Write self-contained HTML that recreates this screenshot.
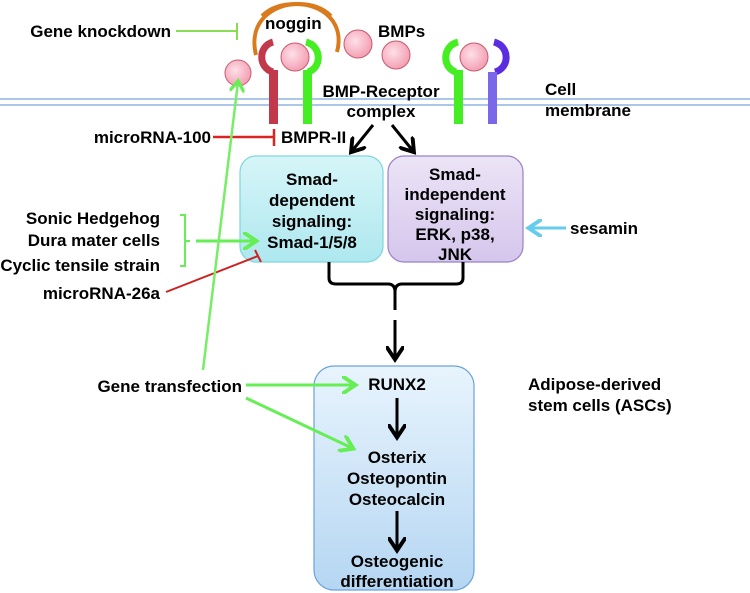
<!DOCTYPE html>
<html><head><meta charset="utf-8"><style>
html,body{margin:0;padding:0;background:#fff;}
svg{display:block;font-family:"Liberation Sans",Arial,sans-serif;font-weight:bold;font-size:17px;}
</style></head><body>
<svg width="750" height="593" viewBox="0 0 750 593" xmlns="http://www.w3.org/2000/svg">
<defs>
<marker id="ab" markerWidth="6" markerHeight="6" refX="4" refY="3" orient="auto" markerUnits="strokeWidth"><path d="M0,0 L4.5,3 L0,6" fill="none" stroke="#000" stroke-width="1.3"/></marker>
<marker id="ag" markerWidth="6" markerHeight="6" refX="4" refY="3" orient="auto" markerUnits="strokeWidth"><path d="M0,0 L4.5,3 L0,6" fill="none" stroke="#66ee55" stroke-width="1.3"/></marker>
<marker id="ac" markerWidth="6" markerHeight="6" refX="4" refY="3" orient="auto" markerUnits="strokeWidth"><path d="M0,0 L4.5,3 L0,6" fill="none" stroke="#66ccee" stroke-width="1.3"/></marker>
<radialGradient id="ball" cx="0.4" cy="0.4" r="0.6"><stop offset="0" stop-color="#fde0e8"/><stop offset="1" stop-color="#f4a0b4"/></radialGradient>
<linearGradient id="g1" x1="0" y1="0" x2="0" y2="1"><stop offset="0" stop-color="#d6f5f8"/><stop offset="1" stop-color="#aee8ef"/></linearGradient>
<linearGradient id="g2" x1="0" y1="0" x2="0" y2="1"><stop offset="0" stop-color="#ece4f6"/><stop offset="1" stop-color="#d5c6ec"/></linearGradient>
<linearGradient id="g3" x1="0" y1="0" x2="0" y2="1"><stop offset="0" stop-color="#e8f4fd"/><stop offset="1" stop-color="#b5d6f2"/></linearGradient>
</defs>
<line x1="0" y1="99" x2="750" y2="99" stroke="#8fb4e0" stroke-width="1.5"/>
<line x1="0" y1="105" x2="750" y2="105" stroke="#8fb4e0" stroke-width="1.5"/>
<path d="M256,55 C248,22 272,4 298,4 C314,4 324,9 331,16" fill="none" stroke="#d97a1c" stroke-width="4"/>
<path d="M337,52 C345,22 322,4 296,4 C280,4 269,9 262,16" fill="none" stroke="#d97a1c" stroke-width="4"/>
<text x="265" y="29">noggin</text>
<path d="M273,42 C258,46 258,68 273,72" fill="none" stroke="#c2394c" stroke-width="7"/>
<rect x="269" y="70" width="9" height="54" fill="#c2394c"/>
<path d="M306,42 C322,46 322,68 308,72" fill="none" stroke="#44ee22" stroke-width="7"/>
<rect x="303" y="70" width="9" height="54" fill="#44ee22"/>
<path d="M458,42 C442,46 442,68 456,72" fill="none" stroke="#44ee22" stroke-width="7"/>
<rect x="454" y="70" width="9" height="54" fill="#44ee22"/>
<path d="M494,42 C510,46 510,68 495,72" fill="none" stroke="#5a2de0" stroke-width="7"/>
<rect x="488" y="72" width="9" height="52" fill="#7a68e8"/>
<g fill="url(#ball)" stroke="#c85a70" stroke-width="1">
<circle cx="295" cy="57" r="14"/><circle cx="358" cy="44" r="14"/><circle cx="396" cy="55" r="14"/>
<circle cx="474" cy="57" r="14"/><circle cx="238" cy="73" r="13"/></g>
<text x="378" y="37">BMPs</text>
<text x="381" y="97" text-anchor="middle">BMP-Receptor</text>
<text x="381" y="117" text-anchor="middle">complex</text>
<text x="545" y="95">Cell</text>
<text x="545" y="116">membrane</text>
<text x="171" y="37" text-anchor="end">Gene knockdown</text>
<line x1="176" y1="31" x2="236" y2="31" stroke="#88dd55" stroke-width="2"/>
<line x1="237" y1="23" x2="237" y2="40" stroke="#88dd55" stroke-width="2"/>
<text x="211" y="143" text-anchor="end">microRNA-100</text>
<line x1="213" y1="137" x2="273" y2="137" stroke="#dd2222" stroke-width="2.5"/>
<line x1="274" y1="129" x2="274" y2="146" stroke="#dd2222" stroke-width="2.5"/>
<text x="281" y="143">BMPR-II</text>
<line x1="373" y1="125" x2="352" y2="151" stroke="#000" stroke-width="3" marker-end="url(#ab)"/>
<line x1="392" y1="125" x2="413" y2="151" stroke="#000" stroke-width="3" marker-end="url(#ab)"/>
<rect x="240" y="156" width="143" height="106" rx="16" fill="url(#g1)" stroke="#7fd6dd" stroke-width="1.2"/>
<rect x="388" y="156" width="135" height="106" rx="16" fill="url(#g2)" stroke="#9a80c8" stroke-width="1.2"/>
<g text-anchor="middle">
<text x="312" y="185">Smad-</text><text x="312" y="206">dependent</text><text x="312" y="227">signaling:</text><text x="312" y="248">Smad-1/5/8</text>
<text x="455" y="180">Smad-</text><text x="455" y="200">independent</text><text x="455" y="220">signaling:</text><text x="455" y="240">ERK, p38,</text><text x="455" y="260">JNK</text>
</g>
<text x="570" y="234">sesamin</text>
<line x1="566" y1="228" x2="530" y2="228" stroke="#66ccee" stroke-width="3" marker-end="url(#ac)"/>
<g text-anchor="end">
<text x="160" y="224">Sonic Hedgehog</text><text x="160" y="246">Dura mater cells</text><text x="160" y="271">Cyclic tensile strain</text><text x="160" y="299">microRNA-26a</text>
<text x="242" y="392">Gene transfection</text></g>
<path d="M180,215 H185 V266 H180 M185,241 H190" fill="none" stroke="#66ee55" stroke-width="2"/>
<line x1="196" y1="241" x2="255" y2="241" stroke="#66ee55" stroke-width="3" marker-end="url(#ag)"/>
<line x1="166" y1="292" x2="258" y2="256" stroke="#cc2222" stroke-width="2"/>
<line x1="255" y1="250" x2="261" y2="262" stroke="#cc2222" stroke-width="2"/>
<line x1="203" y1="370" x2="238" y2="82" stroke="#77ee66" stroke-width="2.5" marker-end="url(#ag)"/>
<path d="M329,262 V278 Q329,284 336,284 H388 Q395,284 395,292 Q395,284 402,284 H456 Q463,284 463,278 V262" fill="none" stroke="#000" stroke-width="3"/>
<line x1="395" y1="292" x2="395" y2="310" stroke="#000" stroke-width="3"/>
<line x1="395" y1="320" x2="395" y2="358" stroke="#000" stroke-width="3" marker-end="url(#ab)"/>
<rect x="314" y="366" width="160" height="224" rx="20" fill="url(#g3)" stroke="#6aa3dc" stroke-width="1.2"/>
<line x1="246" y1="385" x2="354" y2="385" stroke="#66ee55" stroke-width="3" marker-end="url(#ag)"/>
<line x1="246" y1="398" x2="352" y2="448" stroke="#66ee55" stroke-width="3" marker-end="url(#ag)"/>
<g text-anchor="middle">
<text x="397" y="390">RUNX2</text>
<text x="397" y="463">Osterix</text><text x="397" y="484">Osteopontin</text><text x="397" y="505">Osteocalcin</text>
<text x="397" y="567">Osteogenic</text><text x="397" y="587">differentiation</text></g>
<line x1="397" y1="398" x2="397" y2="436" stroke="#000" stroke-width="3" marker-end="url(#ab)"/>
<line x1="397" y1="511" x2="397" y2="549" stroke="#000" stroke-width="3" marker-end="url(#ab)"/>
<text x="528" y="390">Adipose-derived</text>
<text x="528" y="411">stem cells (ASCs)</text>
</svg>
</body></html>
